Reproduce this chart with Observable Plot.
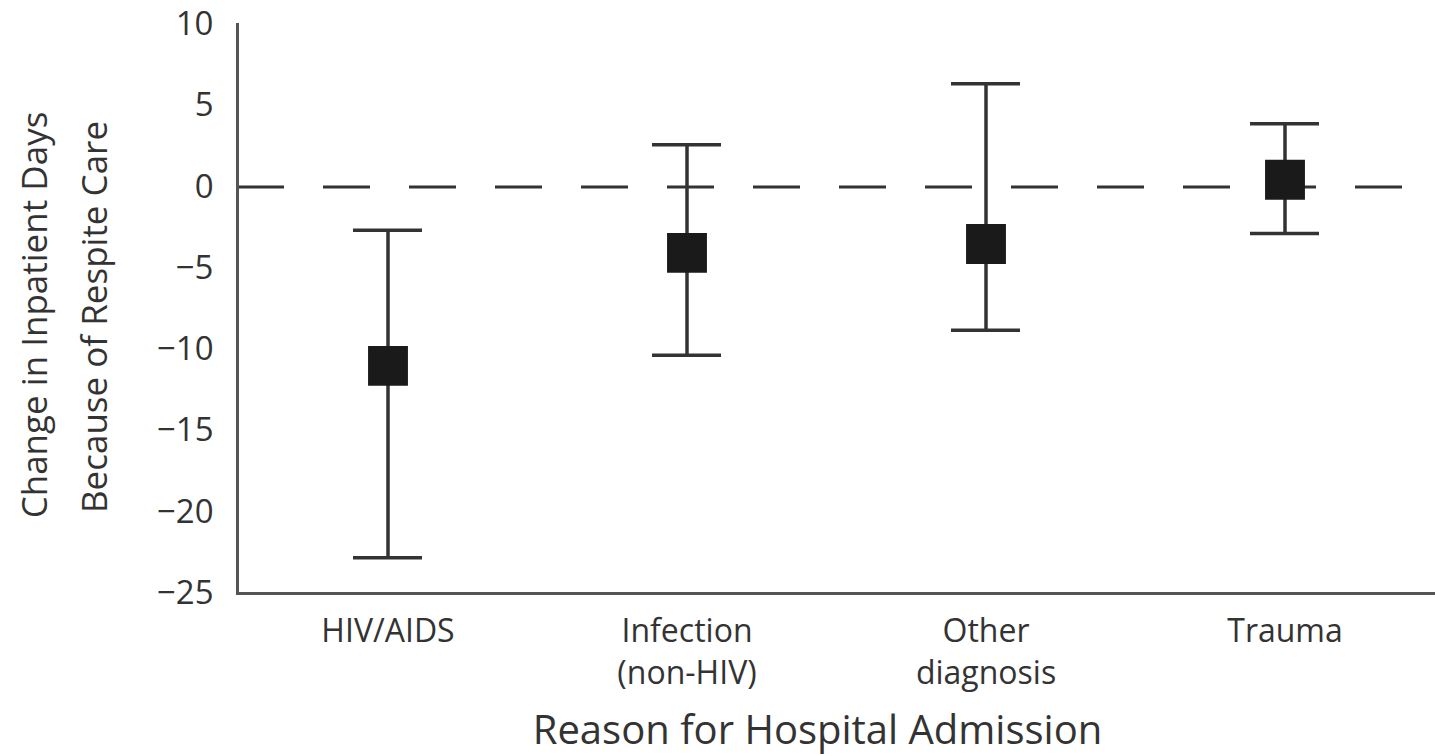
<!DOCTYPE html>
<html>
<head>
<meta charset="utf-8">
<script src="https://cdn.jsdelivr.net/npm/d3@7"></script>
<script src="https://cdn.jsdelivr.net/npm/@observablehq/plot@0.6"></script>
<style>
  html, body { margin: 0; padding: 0; background: #fff; }
</style>
</head>
<body>
<div id="chart"></div>
<script>
const categories = ["HIV/AIDS", "Infection\n(non-HIV)", "Other\ndiagnosis", "Trauma"];
const estimates = [-11.0, -4.05, -3.5, 0.45];
const lower = [-22.8, -10.35, -8.8, -2.85];
const upper = [-2.65, 2.6, 6.35, 3.9];
const yTicks = [10, 5, 0, -5, -10, -15, -20, -25];
const yTitle1 = "Change in Inpatient Days";
const yTitle2 = "Because of Respite Care";
const xTitle = "Reason for Hospital Admission";

const rows = categories.map((c, i) => ({cat: c, est: estimates[i], lo: lower[i], hi: upper[i]}));

const ink = "#333";

const chart = Plot.plot({
  width: 1435,
  height: 754,
  marginLeft: 237,
  marginRight: 0,
  marginTop: 24,
  marginBottom: 161,
  style: {fontFamily: "Open Sans", color: ink, background: "#fff", overflow: "visible"},
  x: {type: "band", domain: categories, padding: 0, axis: null},
  y: {domain: [-25, 10]},
  marks: [
    Plot.axisY({ticks: yTicks, tickSize: 0, tickPadding: 24, fontSize: 33, label: null}),
    Plot.ruleY([0], {stroke: ink, strokeWidth: 3, strokeDasharray: "47,39"}),
    Plot.ruleY([-25], {stroke: "#555", strokeWidth: 3}),
    Plot.frame({anchor: "left", stroke: "#555", strokeWidth: 3}),
    Plot.ruleX(rows, {x: "cat", y1: "lo", y2: "hi", stroke: ink, strokeWidth: 3.5}),
    Plot.tickY(rows, {x: "cat", y: "lo", stroke: ink, strokeWidth: 3.5, insetLeft: 115, insetRight: 115}),
    Plot.tickY(rows, {x: "cat", y: "hi", stroke: ink, strokeWidth: 3.5, insetLeft: 115, insetRight: 115}),
    Plot.dot(rows, {x: "cat", y: "est", symbol: "square", r: 22.5, fill: "#1a1a1a", stroke: "none"}),
    Plot.text(categories, {x: d => d, text: d => d, frameAnchor: "bottom", lineAnchor: "top", dy: 19, fontSize: 32, lineHeight: 1.3, fill: ink}),
    Plot.text([xTitle], {text: d => d, frameAnchor: "bottom", textAnchor: "middle", lineAnchor: "middle", dx: -19, dy: 138, fontSize: 40, fill: ink}),
    Plot.text([yTitle1], {text: d => d, frameAnchor: "left", textAnchor: "middle", rotate: -90, lineAnchor: "middle", dx: -202, dy: 6, fontSize: 35, fill: ink}),
    Plot.text([yTitle2], {text: d => d, frameAnchor: "left", textAnchor: "middle", rotate: -90, lineAnchor: "middle", dx: -142, dy: 8, fontSize: 35, fill: ink})
  ]
});
document.getElementById("chart").appendChild(chart);
</script>
</body>
</html>
